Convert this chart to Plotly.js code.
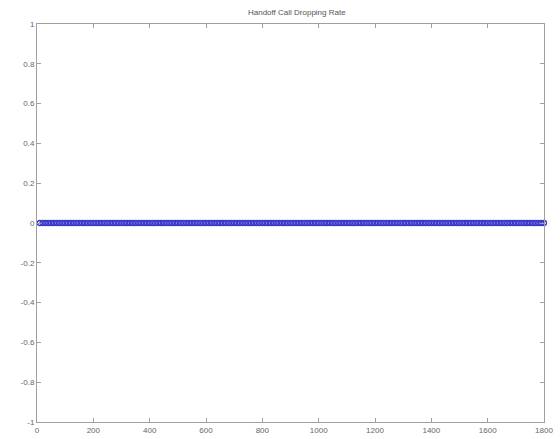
<!DOCTYPE html>
<html>
<head>
<meta charset="utf-8">
<script src="https://cdn.plot.ly/plotly-3.0.1.min.js"></script>
<style>html,body{margin:0;padding:0;background:#fff;}#chart{width:560px;height:439px;}</style>
</head>
<body>
<div id="chart"></div>
<script>
const chartTitle = 'Handoff Call Dropping Rate';
const timeSteps = [10,20,30,40,50,60,70,80,90,100,110,120,130,140,150,160,170,180,190,200,
  210,220,230,240,250,260,270,280,290,300,310,320,330,340,350,360,370,380,390,400,
  410,420,430,440,450,460,470,480,490,500,510,520,530,540,550,560,570,580,590,600,
  610,620,630,640,650,660,670,680,690,700,710,720,730,740,750,760,770,780,790,800,
  810,820,830,840,850,860,870,880,890,900,910,920,930,940,950,960,970,980,990,1000,
  1010,1020,1030,1040,1050,1060,1070,1080,1090,1100,1110,1120,1130,1140,1150,1160,1170,1180,1190,1200,
  1210,1220,1230,1240,1250,1260,1270,1280,1290,1300,1310,1320,1330,1340,1350,1360,1370,1380,1390,1400,
  1410,1420,1430,1440,1450,1460,1470,1480,1490,1500,1510,1520,1530,1540,1550,1560,1570,1580,1590,1600,
  1610,1620,1630,1640,1650,1660,1670,1680,1690,1700,1710,1720,1730,1740,1750,1760,1770,1780,1790,1800];
const dropRate = [0,0,0,0,0,0,0,0,0,0,0,0,0,0,0,0,0,0,0,0,
  0,0,0,0,0,0,0,0,0,0,0,0,0,0,0,0,0,0,0,0,
  0,0,0,0,0,0,0,0,0,0,0,0,0,0,0,0,0,0,0,0,
  0,0,0,0,0,0,0,0,0,0,0,0,0,0,0,0,0,0,0,0,
  0,0,0,0,0,0,0,0,0,0,0,0,0,0,0,0,0,0,0,0,
  0,0,0,0,0,0,0,0,0,0,0,0,0,0,0,0,0,0,0,0,
  0,0,0,0,0,0,0,0,0,0,0,0,0,0,0,0,0,0,0,0,
  0,0,0,0,0,0,0,0,0,0,0,0,0,0,0,0,0,0,0,0,
  0,0,0,0,0,0,0,0,0,0,0,0,0,0,0,0,0,0,0,0];
const xTicks = [0,200,400,600,800,1000,1200,1400,1600,1800];
const yTicks = [-1,-0.8,-0.6,-0.4,-0.2,0,0.2,0.4,0.6,0.8,1];

const trace = {
  x: timeSteps, y: dropRate, type: 'scatter', mode: 'lines+markers',
  line: {color: '#3030c8', width: 1},
  marker: {symbol: 'circle-open', size: 5, color: '#3a3ac8', line: {width: 1.3}},
  cliponaxis: false
};
const axCommon = {
  showgrid: false, zeroline: false, showline: true, linecolor: '#a0a0a0', linewidth: 1,
  mirror: 'ticks', ticks: 'inside', ticklen: 4, tickcolor: '#a0a0a0',
  tickfont: {family: 'Arial, Liberation Sans, sans-serif', size: 8, color: '#666'}
};
const layout = {
  width: 560, height: 439,
  margin: {l: 37, r: 16, t: 24, b: 17},
  paper_bgcolor: '#fff', plot_bgcolor: '#fff',
  showlegend: false,
  title: {text: chartTitle, font: {family: 'Arial, Liberation Sans, sans-serif', size: 8, color: '#555'}, x: 0.53, xanchor: 'center', y: 0.978, yanchor: 'top'},
  xaxis: Object.assign({}, axCommon, {range: [0, 1800], tickvals: xTicks, ticktext: xTicks.map(String)}),
  yaxis: Object.assign({}, axCommon, {range: [-1, 1], tickvals: yTicks, ticktext: yTicks.map(String)})
};
Plotly.newPlot('chart', [trace], layout, {staticPlot: true, displayModeBar: false});
</script>
</body>
</html>
